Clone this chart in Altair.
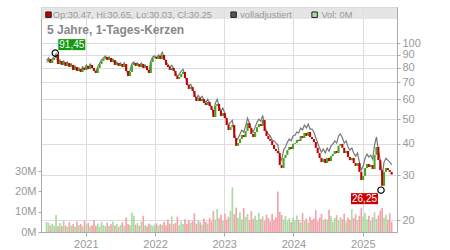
import altair as alt
import numpy as np
import pandas as pd

# ---------------- data ----------------
start_date = "2020-06-08"
step_days = 10
first_open = 84.0

closes = [
    84.3, 86.7, 83.6, 85.9, 87.5, 89.9, 82.8, 85.1, 82.1, 84.3,
    81.3, 83.6, 80.6, 82.1, 78.4, 80.6, 77.7, 79.1, 77.0, 79.9,
    78.4, 81.3, 79.1, 82.1, 79.9, 77.7, 76.3, 79.9, 82.8, 85.1,
    86.7, 88.3, 85.9, 87.5, 84.3, 85.9, 82.1, 83.6, 81.3, 82.8,
    80.6, 82.8, 77.7, 74.2, 77.0, 82.1, 83.6, 81.3, 82.8, 80.6,
    82.8, 79.9, 81.3, 78.4, 76.3, 84.3, 87.5, 88.3, 86.7, 89.1,
    86.7, 89.9, 85.9, 82.1, 80.6, 78.4, 79.9, 77.7, 74.2, 72.2,
    73.6, 75.6, 77.0, 72.9, 68.4, 66.0, 67.1, 64.8, 61.3, 59.1,
    60.8, 59.1, 60.2, 58.1, 57.0, 58.6, 56.5, 54.5, 51.1, 56.5,
    57.5, 54.0, 51.6, 53.0, 50.6, 47.5, 45.4, 46.6, 47.5, 42.2,
    39.3, 40.3, 41.8, 43.4, 42.6, 45.0, 48.4, 46.2, 43.8, 42.6,
    44.6, 46.6, 47.9, 47.1, 49.7, 45.0, 43.0, 41.8, 41.1, 39.6,
    38.2, 37.5, 36.8, 33.0, 32.1, 35.2, 36.2, 37.8, 38.9, 38.2,
    40.0, 40.3, 41.5, 41.1, 43.0, 42.2, 44.2, 43.0, 44.6, 42.6,
    41.8, 40.7, 38.6, 36.8, 35.2, 33.9, 34.9, 33.6, 35.2, 34.2,
    35.8, 36.5, 37.5, 36.8, 39.3, 40.0, 38.6, 36.8, 37.5, 35.5,
    34.5, 35.2, 33.6, 32.7, 33.6, 31.0, 28.8, 29.9, 32.1, 33.3,
    32.4, 33.0, 31.8, 36.2, 38.9, 34.5, 31.5, 27.3, 31.0, 32.1,
    31.5, 31.0, 30.25,
]

adjusted = [
    85.1, 87.6, 84.4, 86.8, 88.4, 90.8, 83.6, 86.0, 82.9, 85.1,
    82.1, 84.4, 81.4, 82.9, 79.2, 81.4, 78.5, 79.9, 77.8, 80.7,
    79.2, 82.1, 79.9, 82.9, 80.7, 78.5, 77.1, 80.7, 83.6, 86.0,
    87.6, 89.2, 86.8, 88.4, 85.1, 86.8, 82.9, 84.4, 82.1, 83.6,
    81.4, 83.6, 78.5, 74.9, 77.8, 82.9, 84.4, 82.1, 83.6, 81.4,
    83.6, 80.7, 82.1, 79.2, 77.1, 85.1, 88.4, 89.2, 87.6, 90.0,
    88.9, 92.1, 88.0, 84.2, 82.6, 80.4, 81.9, 79.6, 76.1, 74.0,
    75.4, 77.5, 78.9, 74.7, 70.1, 67.7, 68.8, 66.4, 62.8, 60.6,
    62.3, 60.6, 61.7, 59.6, 58.4, 60.1, 57.9, 55.9, 52.4, 57.9,
    60.1, 56.4, 53.9, 55.4, 52.9, 49.6, 47.4, 48.7, 49.6, 44.1,
    41.1, 42.1, 43.7, 45.4, 44.5, 47.0, 50.6, 48.3, 45.8, 44.5,
    46.6, 48.7, 50.1, 49.2, 51.9, 47.0, 44.9, 43.7, 43.0, 41.4,
    41.1, 40.3, 39.6, 35.5, 34.5, 37.8, 38.9, 40.6, 41.8, 41.1,
    43.0, 43.3, 44.6, 44.2, 46.2, 45.4, 47.5, 46.2, 47.9, 45.8,
    45.8, 44.6, 42.3, 40.3, 38.5, 37.1, 38.2, 36.8, 38.5, 37.4,
    39.2, 40.0, 41.1, 40.3, 43.0, 43.8, 42.3, 40.3, 41.1, 38.9,
    37.8, 38.5, 36.8, 35.8, 36.8, 33.9, 31.5, 32.7, 35.1, 36.5,
    35.5, 36.1, 34.8, 39.6, 42.6, 37.8, 34.5, 29.9, 33.9, 35.1,
    34.5, 33.9, 33.1,
]

volumes_m = [
    5.0, 4.6, 3.2, 4.1, 3.0, 8.4, 2.8, 4.4, 3.0, 5.6,
    3.3, 2.6, 4.8, 3.1, 3.9, 2.7, 5.2, 3.4, 4.0, 2.9,
    5.5, 3.6, 4.5, 2.8, 3.3, 6.0, 3.1, 4.2, 2.7, 5.0,
    3.4, 3.0, 4.6, 2.9, 3.8, 5.2, 3.2, 4.1, 2.6, 3.5,
    4.8, 3.0, 7.2, 4.0, 3.4, 9.5, 8.0, 3.6, 4.4, 3.1,
    5.1, 8.0, 3.3, 2.8, 4.2, 3.6, 2.9, 3.7, 4.3, 3.1,
    4.0, 3.5, 5.0, 3.2, 6.2, 4.1, 7.7, 3.8, 4.5, 7.6,
    3.5, 5.2, 4.0, 6.3, 3.9, 5.8, 4.6, 5.4, 9.2, 4.1,
    6.0, 4.8, 3.7, 6.6, 5.0, 4.2, 7.0, 5.3, 10.3, 6.1,
    11.3, 6.8, 8.5, 5.4, 9.0, 6.2, 7.5, 10.5, 22.0, 8.8,
    12.0, 7.0, 9.6, 6.3, 11.8, 7.4, 8.9, 5.8, 10.2, 6.5,
    8.0, 5.9, 9.4, 6.4, 7.8, 5.5, 8.6, 6.9, 5.2, 9.0,
    6.0, 7.3, 20.0, 10.0, 8.4, 6.2, 7.9, 5.4, 6.8, 4.9,
    7.2, 5.8, 8.1, 6.0, 4.7, 9.3, 5.5, 6.7, 4.8, 7.5,
    5.9, 6.6, 10.8, 5.3, 7.0, 8.9, 5.6, 6.4, 6.1, 11.0,
    7.7, 5.0, 6.9, 8.3, 5.7, 7.4, 6.3, 9.1, 5.2, 7.1,
    6.0, 11.2, 6.8, 8.7, 5.9, 8.0, 12.0, 7.6, 9.4, 6.2,
    8.0, 5.5, 7.3, 9.8, 6.4, 8.2, 10.6, 11.8, 7.0, 8.5,
    6.1, 9.2, 5.0,
]

year_ticks = [2021, 2022, 2023, 2024, 2025]
price_ticks = [20, 30, 40, 50, 60, 70, 80, 90, 100]
volume_ticks = [0, 10, 20, 30]

ann_dates = ["2020-07-24", "2025-04-07"]
ann_values = [91.45, 26.25]
ann_labels = ["91,45", "26,25"]

last_ohlc = [30.47, 30.65, 30.03, 30.25]
last_volume = "0M"
title_text = "5 Jahre, 1-Tages-Kerzen"
adj_label = "volladjustiert"

# ---------------- build tables ----------------
dates = pd.date_range(start_date, periods=len(closes), freq=f"{step_days}D")
opens = [first_open] + closes[:-1]
df = pd.DataFrame({
    "date": dates,
    "open": opens,
    "close": closes,
    "adj": adjusted,
    "vol": volumes_m,
})
ann = pd.DataFrame({"date": pd.to_datetime(ann_dates), "value": ann_values, "label": ann_labels})
one = pd.DataFrame({"k": [0]})

W, H = 356, 225
FONT = "Liberation Sans"
RED = "#c40000"
GREEN = "#44a622"
GRID = "#dddddd"
AXC = "#aaaaaa"
LAB = "#999999"

xscale = alt.Scale(domain=[alt.DateTime(year=2020, month=6, date=5),
                           alt.DateTime(year=2025, month=6, date=4)])
xaxis = alt.Axis(values=[alt.DateTime(year=y, month=1, date=1) for y in year_ticks],
                 format="%Y", title=None, grid=True, gridColor=GRID,
                 tickSize=4, tickColor=AXC, domainColor=AXC,
                 labelColor=LAB, labelFontSize=11, labelFlush=False, labelPadding=2)
X = alt.X("date:T", scale=xscale, axis=xaxis)

pscale = alt.Scale(type="log", domain=[17.93, 139.2], nice=False)
paxis = alt.Axis(orient="right", values=price_ticks, format="d", title=None,
                 grid=True, gridColor=GRID, tickSize=3, tickColor=AXC,
                 domainColor=AXC, labelColor=LAB, labelFontSize=11, labelPadding=2)

def PY(field):
    return alt.Y(field, type="quantitative", scale=pscale, axis=paxis)

updown_strong = alt.condition("datum.close >= datum.open", alt.value(GREEN), alt.value(RED))
updown_light = alt.condition("datum.close >= datum.open", alt.value("#a9dca2"), alt.value("#f2a4ac"))

# header band
header = alt.Chart(one).mark_rect(color="#dedede", opacity=0.8).encode(
    x=alt.value(0), x2=alt.value(W), y=alt.value(0), y2=alt.value(12))

# volume
vol = alt.Chart(df).mark_bar(size=1.7).encode(
    x=X,
    y=alt.Y("vol:Q", scale=alt.Scale(domain=[0, 110.8], nice=False),
            axis=alt.Axis(orient="left", values=volume_ticks, labelExpr="datum.value + 'M'",
                          grid=False, title=None, tickSize=3, tickColor=AXC, domainColor=AXC,
                          labelColor=LAB, labelFontSize=11, labelPadding=2)),
    color=updown_light,
)

gray = alt.Chart(df).mark_line(color="#777777", strokeWidth=1.2).encode(x=X, y=PY("adj"))
candles = alt.Chart(df).mark_rule(strokeWidth=2.1).encode(
    x=X, y=PY("open"), y2="close:Q", color=updown_strong)

ann_hi = ann.iloc[[0]]
ann_lo = ann.iloc[[1]]
box_hi = alt.Chart(ann_hi).mark_rect(color="#119a11", xOffset=3, x2Offset=30, yOffset=-14, y2Offset=-3).encode(
    x=X, x2="date:T", y=PY("value"), y2="value:Q")
txt_hi = alt.Chart(ann_hi).mark_text(color="white", fontSize=10, font=FONT, dx=16.5, dy=-8.5,
                                     align="center", baseline="middle").encode(
    x=X, y=PY("value"), text="label:N")
box_lo = alt.Chart(ann_lo).mark_rect(color="#cc0000", xOffset=-30, x2Offset=-3, yOffset=3, y2Offset=14).encode(
    x=X, x2="date:T", y=PY("value"), y2="value:Q")
txt_lo = alt.Chart(ann_lo).mark_text(color="white", fontSize=10, font=FONT, dx=-16.5, dy=8.5,
                                     align="center", baseline="middle").encode(
    x=X, y=PY("value"), text="label:N")
circles = alt.Chart(ann).mark_point(shape="circle", size=40, filled=False, color="black",
                                    strokeWidth=1.2, opacity=1).encode(x=X, y=PY("value"))

price = alt.layer(gray, candles, box_hi, txt_hi, box_lo, txt_lo, circles)

# header texts
ohlc_text = "Op:{:.2f}, Hi:{:.2f}, Lo:{:.2f}, Cl:{:.2f}".format(*last_ohlc)

def sq(xpos, fill):
    return alt.Chart(one).mark_point(shape="square", filled=True, size=30, fill=fill,
                                     stroke="#222222", strokeWidth=1, opacity=1).encode(
        x=alt.value(xpos), y=alt.value(7.7))

def htxt(xpos, text):
    return alt.Chart(one).mark_text(text=text, align="left", baseline="middle", fontSize=9.3,
                                    font=FONT, color=LAB).encode(x=alt.value(xpos), y=alt.value(7.7))

title = alt.Chart(one).mark_text(text=title_text, align="left", baseline="alphabetic", fontSize=12,
                                 fontWeight="bold", font=FONT, color="#888888").encode(
    x=alt.value(6), y=alt.value(27))

chart = alt.layer(
    header, vol, price,
    sq(7.5, RED), htxt(11.8, ohlc_text),
    sq(192.6, "#555555"), htxt(199.2, adj_label),
    sq(273.6, "#a9dca2"), htxt(280.4, "Vol: " + last_volume),
    title,
).resolve_scale(y="independent").properties(
    width=W, height=H,
    padding={"left": 41, "top": 7, "right": 53, "bottom": 18},
    autosize=alt.AutoSizeParams(type="none"),
).configure_view(stroke="#c8c8c8").configure_axis(labelFont=FONT)

chart.save("out.html", embed_options={"renderer": "svg", "actions": False})
